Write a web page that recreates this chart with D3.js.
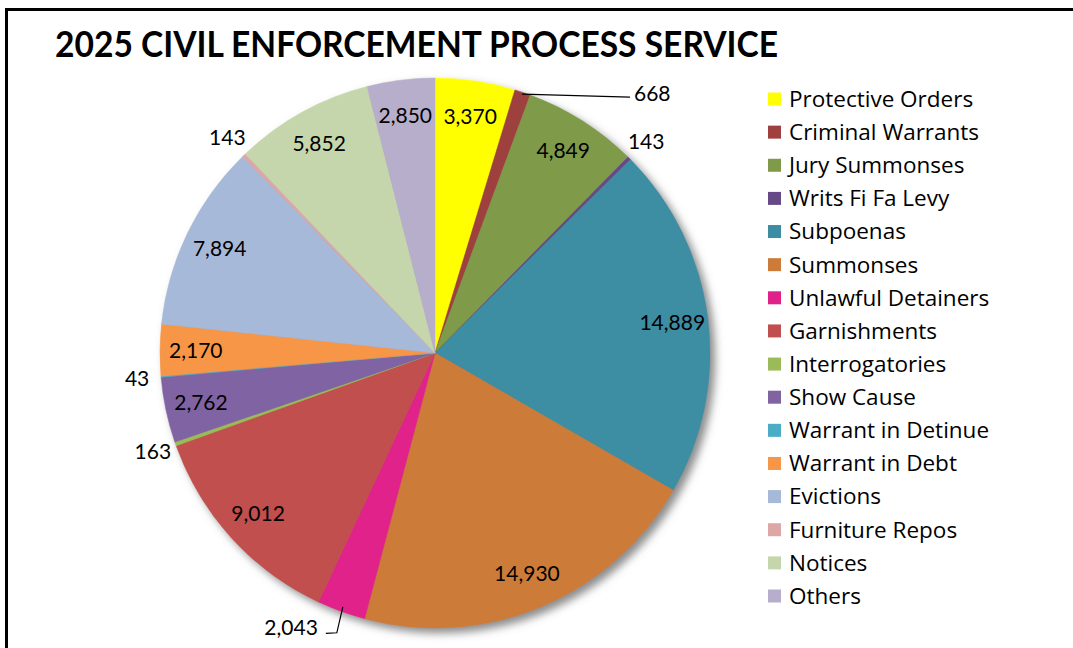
<!DOCTYPE html>
<html>
<head>
<meta charset="utf-8">
<script src="https://cdn.jsdelivr.net/npm/d3@7/dist/d3.min.js"></script>
<style>
  html, body { margin: 0; padding: 0; background: #fff; }
  svg { display: block; }
</style>
</head>
<body>
<div class="chart"></div>
<script>
'use strict'

const categories = [
  'Protective Orders', 'Criminal Warrants', 'Jury Summonses', 'Writs Fi Fa Levy',
  'Subpoenas', 'Summonses', 'Unlawful Detainers', 'Garnishments',
  'Interrogatories', 'Show Cause', 'Warrant in Detinue', 'Warrant in Debt',
  'Evictions', 'Furniture Repos', 'Notices', 'Others'
]
const counts = [3370, 668, 4849, 143, 14889, 14930, 2043, 9012, 163, 2762, 43, 2170, 7894, 143, 5852, 2850]
const colors = [
  '#ffff00', '#9e413e', '#7f9a48', '#664a88',
  '#3c8da3', '#cc7b38', '#e0218a', '#c0504d',
  '#9bbb59', '#8064a2', '#4bacc6', '#f79646',
  '#a7b9d8', '#dca7a6', '#c6d6ac', '#b7aecb'
]
// how each value label is placed: in = inside slice, out = just outside, lead = with leader line
const labelMode = ['in', 'lead', 'in', 'out', 'in', 'in', 'lead', 'in', 'out', 'in', 'out', 'in', 'in', 'out', 'in', 'in']

const width = 1073
const height = 648
const cx = 435
const cy = 353
const radius = 275
const font = 'Lato, "Open Sans", sans-serif'

const svg = d3.select('.chart').append('svg')
    .attr('width', width)
    .attr('height', height)

const defs = svg.append('defs')
const shadow = defs.append('filter')
    .attr('id', 'shadow')
    .attr('x', '-10%').attr('y', '-10%')
    .attr('width', '125%').attr('height', '125%')
shadow.append('feDropShadow')
    .attr('dx', 5).attr('dy', 5)
    .attr('stdDeviation', 4)
    .attr('flood-color', '#777')
    .attr('flood-opacity', 0.85)

// frame (runs off the right and bottom of the picture)
svg.append('rect')
    .attr('x', 6.5).attr('y', 9.5)
    .attr('width', 1120).attr('height', 700)
    .style('fill', 'none').style('stroke', '#000').style('stroke-width', 3)

svg.append('text')
    .attr('x', 55).attr('y', 57)
    .attr('textLength', 723)
    .attr('lengthAdjust', 'spacingAndGlyphs')
    .style('font-family', font)
    .style('font-weight', 700)
    .style('font-size', '36px')
    .text('2025 CIVIL ENFORCEMENT PROCESS SERVICE')

const data = categories.map((name, i) => ({ name, value: counts[i], color: colors[i], mode: labelMode[i] }))

const pie = d3.pie().sort(null).value(d => d.value)
const arcs = pie(data)
const arc = d3.arc().innerRadius(0).outerRadius(radius)

const g = svg.append('g')
    .attr('transform', 'translate(' + cx + ',' + cy + ')')

const slices = g.append('g').attr('filter', 'url(#shadow)')
slices.selectAll('path')
    .data(arcs)
  .enter().append('path')
    .attr('d', arc)
    .style('fill', d => d.data.color)
    .style('stroke', d => d.data.color)
    .style('stroke-width', 0.5)

const fmt = d3.format(',')
function polar(a, r) { return [Math.sin(a) * r, -Math.cos(a) * r] }
function mid(d) { return (d.startAngle + d.endAngle) / 2 }

const labels = g.append('g')
    .style('font-family', font)
    .style('font-size', '21px')
    .style('fill', '#000')

labels.selectAll('text.in')
    .data(arcs.filter(d => d.data.mode === 'in'))
  .enter().append('text')
    .attr('class', 'in')
    .attr('x', d => polar(mid(d), radius * 0.87)[0])
    .attr('y', d => polar(mid(d), radius * 0.87)[1])
    .attr('dy', '0.35em')
    .style('text-anchor', 'middle')
    .text(d => fmt(d.data.value))

labels.selectAll('text.out')
    .data(arcs.filter(d => d.data.mode === 'out'))
  .enter().append('text')
    .attr('class', 'out')
    .attr('x', d => polar(mid(d), radius + 24)[0])
    .attr('y', d => polar(mid(d), radius + 24)[1])
    .attr('dy', '0.35em')
    .style('text-anchor', 'middle')
    .text(d => fmt(d.data.value))

// leader-line labels
const lead = arcs.filter(d => d.data.mode === 'lead')
lead.forEach(d => {
  const a = mid(d)
  const toRight = Math.sin(a) > 0 && Math.cos(a) > 0
  let pts, tx, ty, anchor
  if (toRight) {
    const p0 = polar(a, radius - 2)
    pts = [p0, [p0[0] + 108, p0[1] + 3]]
    tx = pts[1][0] + 4; ty = pts[1][1] - 4; anchor = 'start'
  } else {
    const p0 = polar(a, radius - 5)
    const p1 = [p0[0] - 6, p0[1] + 26]
    pts = [p0, p1, [p1[0] - 11, p1[1] + 0.5]]
    tx = pts[2][0] - 8; ty = pts[2][1] - 6; anchor = 'end'
  }
  labels.append('path')
      .attr('d', d3.line()(pts))
      .style('fill', 'none').style('stroke', '#000').style('stroke-width', 1.2)
  labels.append('text')
      .attr('x', tx).attr('y', ty)
      .attr('dy', '0.35em')
      .style('text-anchor', anchor)
      .text(fmt(d.data.value))
})

// legend
const legendY = d3.scalePoint()
    .domain(categories)
    .range([99, 596])

const legend = svg.append('g')
    .style('font-family', '"Open Sans", Lato, sans-serif')
    .style('font-size', '22.5px')

const item = legend.selectAll('g')
    .data(data)
  .enter().append('g')
    .attr('transform', d => 'translate(768,' + legendY(d.name) + ')')

item.append('rect')
    .attr('x', 0).attr('y', -6.5)
    .attr('width', 13).attr('height', 13)
    .style('fill', d => d.color)

item.append('text')
    .attr('x', 21).attr('y', 0)
    .attr('dy', '0.35em')
    .text(d => d.name)
</script>
</body>
</html>
